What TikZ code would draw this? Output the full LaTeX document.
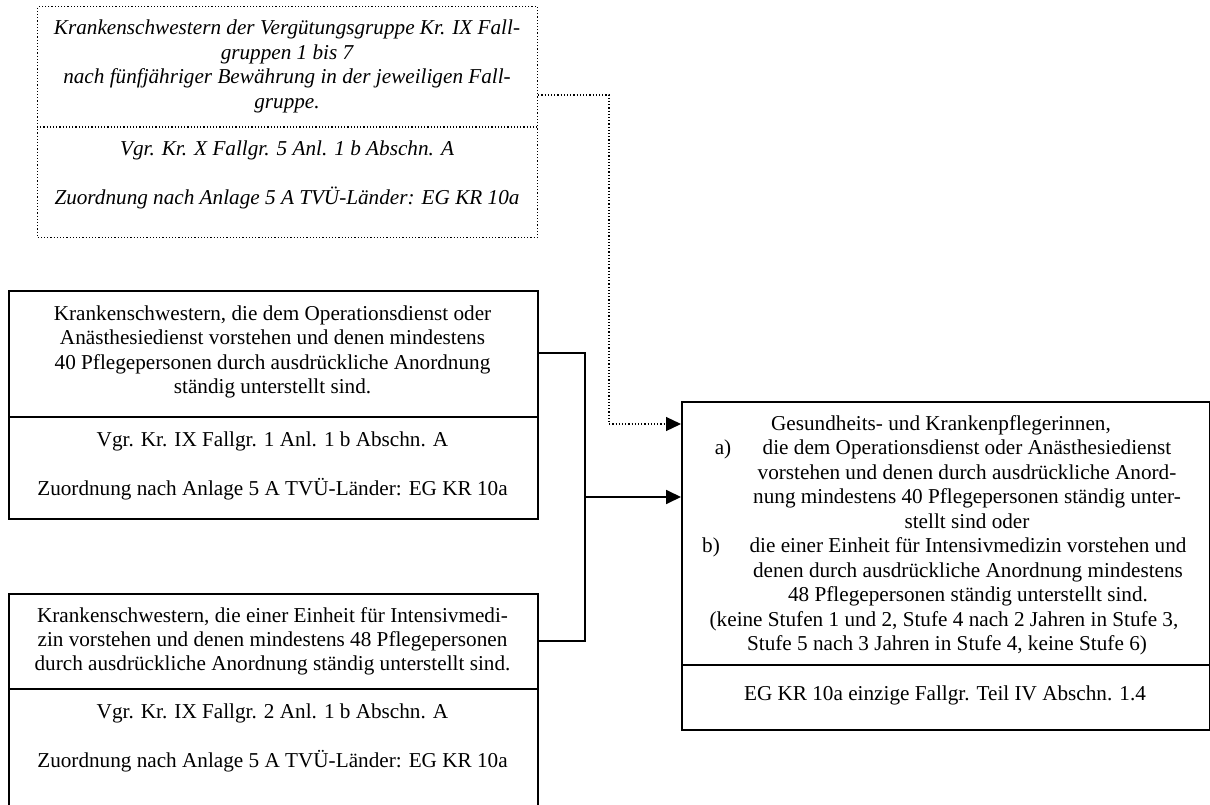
\documentclass[tikz,border=0pt]{standalone}
\usepackage{fontspec}
\setmainfont{Liberation Serif}
\usetikzlibrary{arrows.meta,calc}
\tikzset{
  solidbox/.style={draw, line width=1.8pt, inner sep=0pt, fill=none},
  dotbox/.style={draw, dotted, line width=1.2pt, inner sep=0pt},
  sepline/.style={line width=1.8pt},
  dotsep/.style={dotted, line width=1.2pt},
  conn/.style={line width=1.8pt},
  dconn/.style={dotted, line width=1.2pt},
  tip/.style={-{Triangle[length=15pt,width=14pt]}},
  txt/.style={font=\fontsize{21.2}{24.5}\selectfont, inner sep=0pt, text height=14.5pt, text depth=4.5pt},
  itx/.style={font=\fontsize{21.2}{24.5}\selectfont\itshape, inner sep=0pt, text height=14.5pt, text depth=4.5pt}
}
\begin{document}
\begin{tikzpicture}[x=1pt,y=-1pt]
\useasboundingbox (0,0) rectangle (1210,805);
\clip (0,0) rectangle (1210,805);
\fill[white] (0,0) rectangle (1210,805);

% boxes
\node[dotbox, minimum width=500pt, minimum height=231pt, anchor=north west] (top) at (37,6) {};
\node[solidbox, minimum width=529pt, minimum height=228pt, anchor=north west] (b1) at (8,290) {};
\node[solidbox, minimum width=529pt, minimum height=260pt, anchor=north west] (b3) at (8,593) {};
\node[solidbox, minimum width=528pt, minimum height=328pt, anchor=north west] (rb) at (681,401) {};

% separators
\draw[dotsep] (top.west |- 0,127) -- (top.east |- 0,127);
\draw[sepline] (b1.west |- 0,417) -- (b1.east |- 0,417);
\draw[sepline] (b3.west |- 0,689) -- (b3.east |- 0,689);
\draw[sepline] (rb.west |- 0,665) -- (rb.east |- 0,665);

% top box text
\node[itx] (t1) at (287,30) {Krankenschwestern der Vergütungsgruppe Kr. IX Fall-};
\node[itx] (t2) at (287,54.5) {gruppen 1 bis 7};
\node[itx] (t3) at (287,79) {nach fünfjähriger Bewährung in der jeweiligen Fall-};
\node[itx] (t4) at (287,103.5) {gruppe.};
\node[itx] (t5) at (287,151) {Vgr. Kr. X Fallgr. 5 Anl. 1 b Abschn. A};
\node[itx] (t6) at (287,200) {Zuordnung nach Anlage 5 A TVÜ-Länder: EG KR 10a};

% box 1 text
\node[txt] (p1) at (272.5,315) {Krankenschwestern, die dem Operationsdienst oder};
\node[txt] (p2) at (272.5,339.5) {Anästhesiedienst vorstehen und denen mindestens};
\node[txt] (p3) at (272.5,364) {40 Pflegepersonen durch ausdrückliche Anordnung};
\node[txt] (p4) at (272.5,388.5) {ständig unterstellt sind.};
\node[txt] (p5) at (272.5,441) {Vgr. Kr. IX Fallgr. 1 Anl. 1 b Abschn. A};
\node[txt] (p6) at (272.5,490) {Zuordnung nach Anlage 5 A TVÜ-Länder: EG KR 10a};

% box 3 text
\node[txt] (q1) at (272.5,617) {Krankenschwestern, die einer Einheit für Intensivmedi-};
\node[txt] (q2) at (272.5,641) {zin vorstehen und denen mindestens 48 Pflegepersonen};
\node[txt] (q3) at (272.5,665) {durch ausdrückliche Anordnung ständig unterstellt sind.};
\node[txt] (q4) at (272.5,713) {Vgr. Kr. IX Fallgr. 2 Anl. 1 b Abschn. A};
\node[txt] (q5) at (272.5,762) {Zuordnung nach Anlage 5 A TVÜ-Länder: EG KR 10a};

% right box text
\node[txt] (r1) at (941,425) {Gesundheits- und Krankenpflegerinnen,};
\node[txt] (ra) at (723,449.5) {a)};
\node[txt] (r2) at (967,449.5) {die dem Operationsdienst oder Anästhesiedienst};
\node[txt] (r3) at (967,474) {vorstehen und denen durch ausdrückliche Anord-};
\node[txt] (r4) at (967,498.5) {nung mindestens 40 Pflegepersonen ständig unter-};
\node[txt] (r5) at (967,523) {stellt sind oder};
\node[txt] (rbl) at (711,547.5) {b)};
\node[txt] (r6) at (968,547.5) {die einer Einheit für Intensivmedizin vorstehen und};
\node[txt] (r7) at (968,572) {denen durch ausdrückliche Anordnung mindestens};
\node[txt] (r8) at (968,596.5) {48 Pflegepersonen ständig unterstellt sind.};
\node[txt] (r9) at (944,621) {(keine Stufen 1 und 2, Stufe 4 nach 2 Jahren in Stufe 3,};
\node[txt] (r10) at (947,645.5) {Stufe 5 nach 3 Jahren in Stufe 4, keine Stufe 6)};
\node[txt] (r11) at (945,695) {EG KR 10a einzige Fallgr. Teil IV Abschn. 1.4};

% connectors
\coordinate (j1) at (585,497);
\coordinate (j2) at (609,424);
\draw[conn, tip] (b1.east |- 0,353) -| (j1) -- (j1 -| rb.west);
\draw[conn] (b3.east |- 0,641) -| (j1);
\draw[dconn, tip] (top.east |- 0,95) -| (j2) -- (j2 -| rb.west);
\end{tikzpicture}
\end{document}
